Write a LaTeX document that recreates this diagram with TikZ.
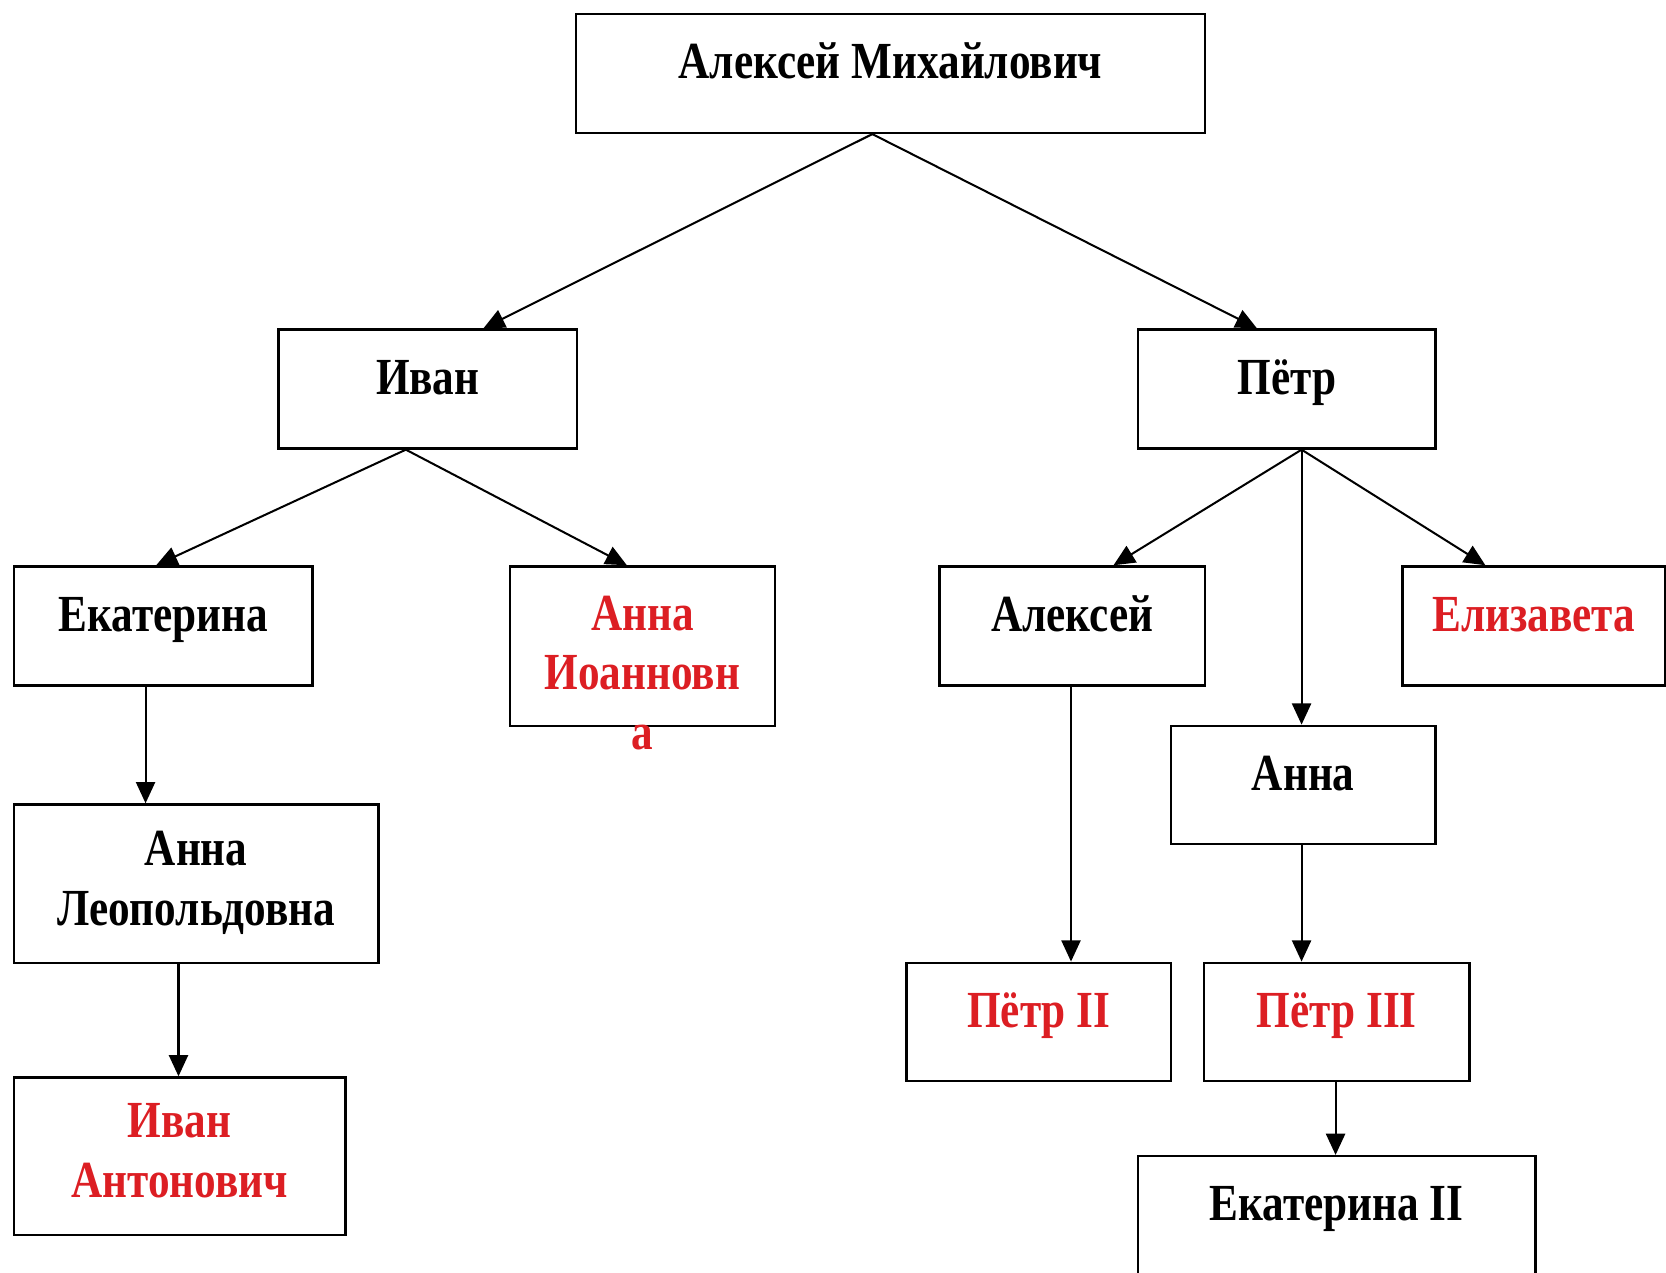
\documentclass[tikz,border=0pt]{standalone}
\usepackage{fontspec}
\setmainfont{Liberation Serif}[FakeStretch=0.83]
\usetikzlibrary{arrows.meta,calc}
\definecolor{redtxt}{RGB}{220,30,35}
\tikzset{
  box/.style={draw, line width=2.2pt, inner sep=0pt, anchor=north west},
  lbl/.style={font=\bfseries\fontsize{49}{56}\selectfont, align=center, inner sep=0pt},
  one/.style={text height=36pt, text depth=10pt},
  hl/.style={text=redtxt},
  arr/.style={line width=1.9pt, -{Triangle[length=20pt,width=18pt]}}
}
\begin{document}
\begin{tikzpicture}[x=1pt,y=-1pt]
\useasboundingbox (0,0) rectangle (1568,1197.2);
\clip (0,0) rectangle (1568,1197.2);
% boxes
\node[box, minimum width=592pt, minimum height=112pt] (am) at (541,12) {};
\node[box, minimum width=281pt, minimum height=112pt] (ivan) at (261,309) {};
\node[box, minimum width=280pt, minimum height=112pt] (petr) at (1070,309) {};
\node[box, minimum width=281pt, minimum height=112pt] (ekat) at (12,532) {};
\node[box, minimum width=249pt, minimum height=150pt] (annaio) at (479,532) {};
\node[box, minimum width=250pt, minimum height=112pt] (aleks) at (883,532) {};
\node[box, minimum width=247pt, minimum height=112pt] (eliz) at (1319,532) {};
\node[box, minimum width=249pt, minimum height=111pt] (anna) at (1101,682) {};
\node[box, minimum width=343pt, minimum height=149pt] (annaleo) at (12,756) {};
\node[box, minimum width=312pt, minimum height=148pt] (ivanant) at (12,1013) {};
\node[box, minimum width=249pt, minimum height=111pt] (petrii) at (852,905) {};
\node[box, minimum width=250pt, minimum height=111pt] (petriii) at (1132,905) {};
\node[box, minimum width=374pt, minimum height=150pt] (ekatii) at (1070,1087) {};
% labels
\node[lbl,one] (t-am) at ([yshift=-49pt]am.north) {Алексей Михайлович};
\node[lbl,one] (t-ivan) at ([yshift=-49pt]ivan.north) {Иван};
\node[lbl,one] (t-petr) at ([yshift=-49pt]petr.north) {Пётр};
\node[lbl,one] (t-ekat) at ([yshift=-49pt]ekat.north) {Екатерина};
\node[lbl,hl] (t-annaio) at ([yshift=-101pt]annaio.north) {Анна\\Иоанновн\\а};
\node[lbl,one] (t-aleks) at ([yshift=-49pt]aleks.north) {Алексей};
\node[lbl,one,hl] (t-eliz) at ([yshift=-49pt]eliz.north) {Елизавета};
\node[lbl,one] (t-anna) at ([yshift=-49pt]anna.north) {Анна};
\node[lbl] (t-annaleo) at ([yshift=-75pt]annaleo.north) {Анна\\Леопольдовна};
\node[lbl,hl] (t-ivanant) at ([yshift=-70pt]ivanant.north) {Иван\\Антонович};
\node[lbl,one,hl] (t-petrii) at ([yshift=-49pt]petrii.north) {Пётр II};
\node[lbl,one,hl] (t-petriii) at ([yshift=-49pt]petriii.north) {Пётр III};
\node[lbl,one] (t-ekatii) at ([yshift=-49pt]ekatii.north) {Екатерина II};
% connectors
\draw[arr] ([xshift=280pt]am.south west) -- ([xshift=194pt]ivan.north west);
\draw[arr] ([xshift=280pt]am.south west) -- ([xshift=113pt]petr.north west);
\draw[arr] ([xshift=121pt]ivan.south west) -- ([xshift=135pt]ekat.north west);
\draw[arr] ([xshift=121pt]ivan.south west) -- ([xshift=111pt]annaio.north west);
\draw[arr] ([xshift=155pt]petr.south west) -- ([xshift=165pt]aleks.north west);
\draw[arr] ([xshift=155pt]petr.south west) -- ([xshift=124pt]anna.north west);
\draw[arr] ([xshift=155pt]petr.south west) -- ([xshift=79pt]eliz.north west);
\draw[arr] ([xshift=125pt]ekat.south west) -- ([xshift=125pt]annaleo.north west);
\draw[arr] ([xshift=156pt]annaleo.south west) -- ([xshift=156pt]ivanant.north west);
\draw[arr] ([xshift=125pt]aleks.south west) -- ([xshift=156pt]petrii.north west);
\draw[arr] ([xshift=124pt]anna.south west) -- ([xshift=93pt]petriii.north west);
\draw[arr] ([xshift=125pt]petriii.south west) -- ([xshift=187pt]ekatii.north west);
\end{tikzpicture}
\end{document}
